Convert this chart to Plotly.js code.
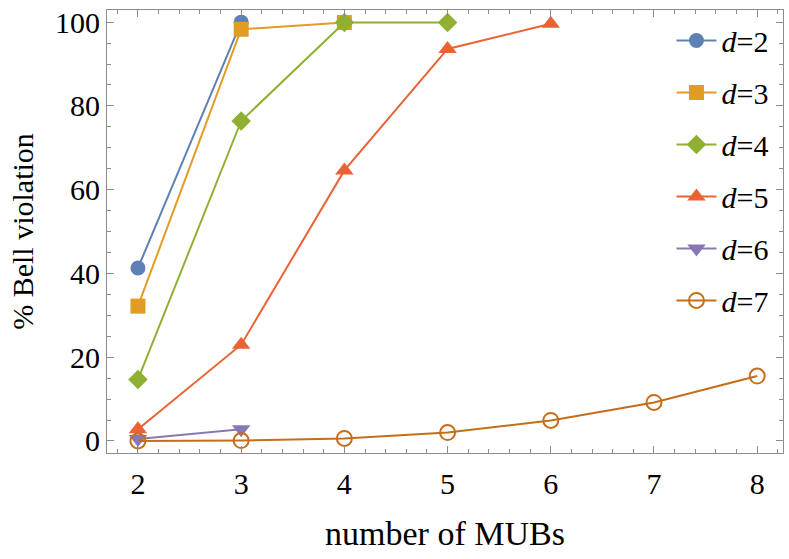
<!DOCTYPE html>
<html>
<head>
<meta charset="utf-8">
<script src="https://cdn.plot.ly/plotly-3.0.1.min.js"></script>
<style>html,body{margin:0;padding:0;background:#fff;}#chart{width:789px;height:559px;}</style>
</head>
<body>
<div id="chart"></div>
<script>
// Data
const xD2 = [2, 3];
const yD2 = [41.3, 100];
const xD3 = [2, 3, 4];
const yD3 = [32.2, 98.3, 99.9];
const xD4 = [2, 3, 4, 5];
const yD4 = [14.7, 76.4, 99.9, 99.9];
const xD5 = [2, 3, 4, 5, 6];
const yD5 = [2.8, 23.0, 64.6, 93.6, 99.6];
const xD6 = [2, 3];
const yD6 = [0.5, 2.8];
const xD7 = [2, 3, 4, 5, 6, 7, 8];
const yD7 = [0.0, 0.1, 0.6, 2.0, 4.9, 9.2, 15.5];
const seriesNames = ['<i>d</i>=2', '<i>d</i>=3', '<i>d</i>=4', '<i>d</i>=5', '<i>d</i>=6', '<i>d</i>=7'];
const xTicks = [2, 3, 4, 5, 6, 7, 8];
const yTicks = [0, 20, 40, 60, 80, 100];

const colors = ['#5E81B5', '#E19C24', '#8FB032', '#EB6235', '#8778B3', '#C56E1A'];
const symbols = ['circle', 'square', 'diamond', 'triangle-up', 'triangle-down', 'circle-open'];
const sizes = [15, 15, 15, 16, 16, 15];
const xs = [xD2, xD3, xD4, xD5, xD6, xD7];
const ys = [yD2, yD3, yD4, yD5, yD6, yD7];

const FONT = '"Liberation Serif", "Times New Roman", serif';

const traces = xs.map((x, i) => ({
  x: x, y: ys[i], type: 'scatter', mode: 'lines+markers',
  name: seriesNames[i], legendgroup: 'g' + i,
  line: {color: colors[i], width: 2},
  marker: {symbol: symbols[i], size: sizes[i], color: colors[i],
           line: {color: colors[i], width: i === 5 ? 2 : 0}}
}));

const axisCommon = {
  showgrid: false, zeroline: false, showline: true, linecolor: '#8c8c8c', linewidth: 1,
  mirror: 'allticks', ticks: 'inside', ticklen: 7, tickwidth: 1, tickcolor: '#8c8c8c',
  tickfont: {family: FONT, size: 30, color: '#000'}
};

const layout = {
  width: 789, height: 559,
  margin: {l: 107, r: 6, t: 10, b: 106},
  paper_bgcolor: '#fff', plot_bgcolor: '#fff',
  showlegend: true,
  legend: {x: 0.835, y: 0.99, xanchor: 'left', yanchor: 'top', bgcolor: 'rgba(0,0,0,0)',
           font: {family: FONT, size: 30, color: '#000'}, tracegroupgap: 10, itemwidth: 40},
  xaxis: Object.assign({}, axisCommon, {
    range: [1.70, 8.25], tickvals: xTicks, ticktext: xTicks.map(String),
    ticklabelstandoff: 4,
    minor: {dtick: 0.2, tick0: 0, ticks: 'inside', ticklen: 4, tickcolor: '#8c8c8c', tickwidth: 1},
    title: {text: 'number of MUBs', font: {family: FONT, size: 34, color: '#000'}, standoff: 22}
  }),
  yaxis: Object.assign({}, axisCommon, {
    range: [-2.87, 102.9], tickvals: yTicks, ticktext: yTicks.map(String),
    ticklabelstandoff: 0,
    minor: {dtick: 5, tick0: 0, ticks: 'inside', ticklen: 4, tickcolor: '#8c8c8c', tickwidth: 1},
    title: {text: '% Bell violation', font: {family: FONT, size: 30, color: '#000'}, standoff: 12}
  })
};

Plotly.newPlot('chart', traces, layout, {displayModeBar: false, staticPlot: true});
</script>
</body>
</html>
